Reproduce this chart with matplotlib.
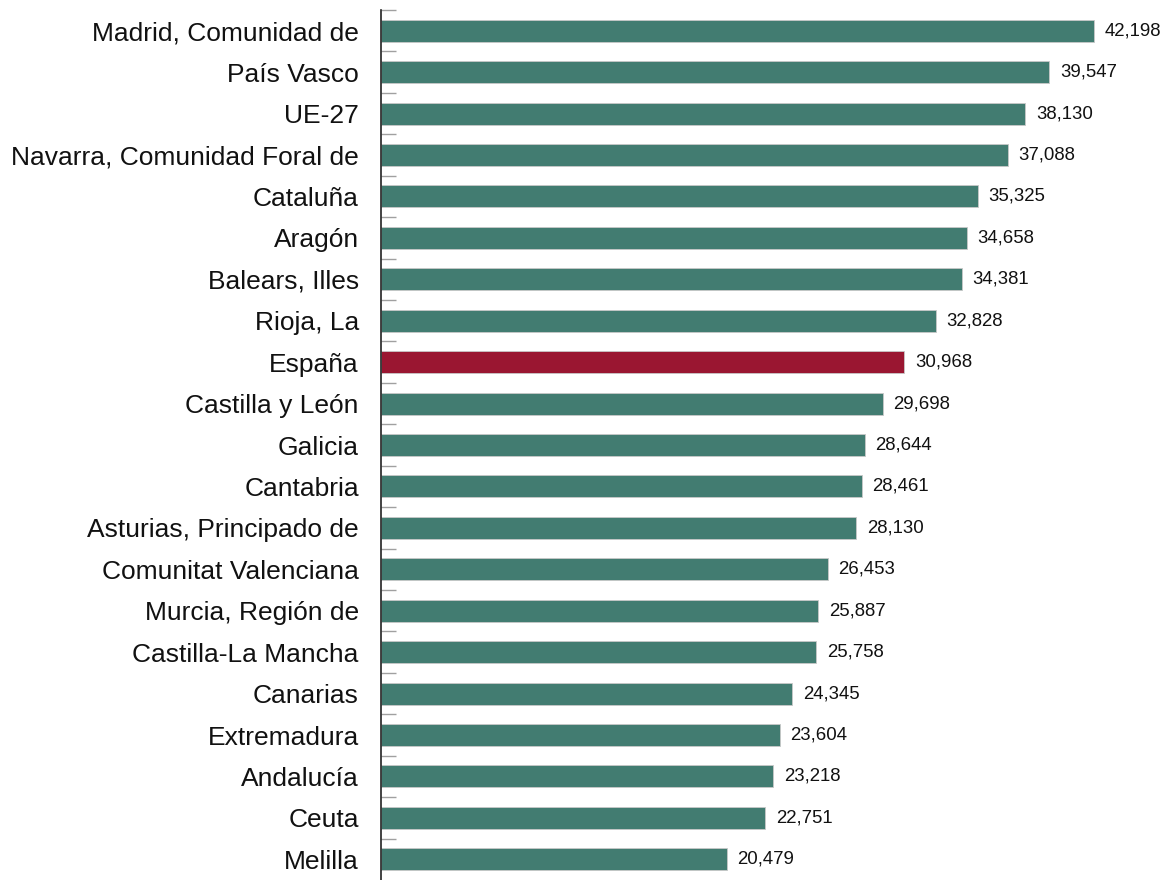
import matplotlib
matplotlib.use("Agg")
import matplotlib.pyplot as plt
import numpy as np

categories = ["Madrid, Comunidad de", "País Vasco", "UE-27", "Navarra, Comunidad Foral de",
              "Cataluña", "Aragón", "Balears, Illes", "Rioja, La", "España",
              "Castilla y León", "Galicia", "Cantabria", "Asturias, Principado de",
              "Comunitat Valenciana", "Murcia, Región de", "Castilla-La Mancha",
              "Canarias", "Extremadura", "Andalucía", "Ceuta", "Melilla"]
values = [42198, 39547, 38130, 37088, 35325, 34658, 34381, 32828, 30968,
          29698, 28644, 28461, 28130, 26453, 25887, 25758, 24345, 23604,
          23218, 22751, 20479]
highlight = "España"

green = "#427C71"
red = "#9A1631"

plt.rcParams['font.family'] = ['Liberation Sans', 'DejaVu Sans']

fig = plt.figure(figsize=(11.66, 8.8), dpi=100)
ax = fig.add_axes([381/1166, 0.0, 1 - 381/1166, 1 - 10/880])

y = np.arange(len(categories))
colors = [red if c == highlight else green for c in categories]
ax.barh(y, values, height=0.53, color=colors, edgecolor="#c8c8c8", linewidth=0.6)

for yi, v in zip(y, values):
    ax.text(v + 620, yi, f"{v:,}", va="center", ha="left", fontsize=13.4, color="#111111")

ax.set_ylim(len(categories) - 0.5, -0.5)
ax.set_xlim(0, 46450)
ax.set_yticks(y)
ax.set_yticklabels(categories, fontsize=19, color="#111111")
ax.tick_params(axis="y", which="major", length=0, pad=16)
ax.set_yticks(y - 0.5, minor=True)
ax.tick_params(axis="y", which="minor", length=11, direction="in", color="#a0a0a0", width=1)
ax.set_xticks([])
for s in ["top", "right", "bottom"]:
    ax.spines[s].set_visible(False)
ax.spines["left"].set_color("#222222")
ax.spines["left"].set_linewidth(1.2)

fig.savefig("out.png", dpi=100)
